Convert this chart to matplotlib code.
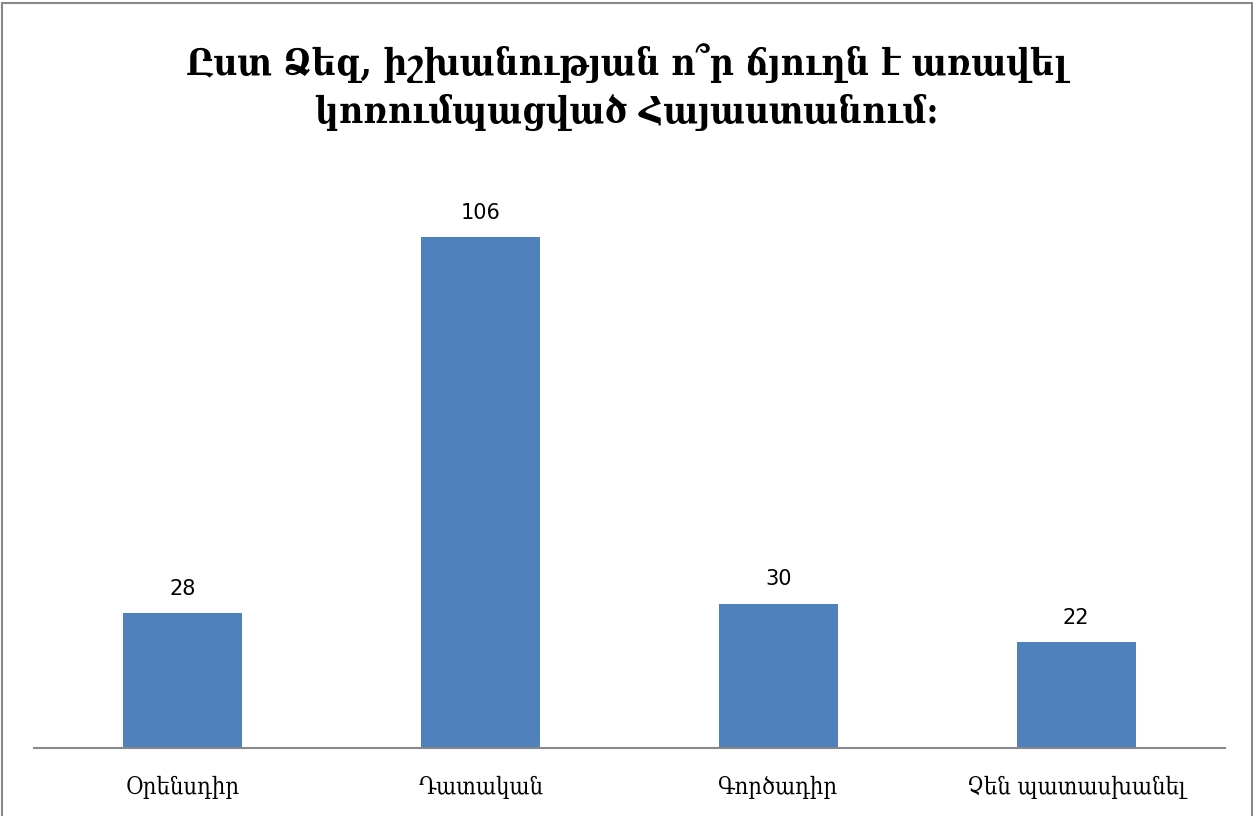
import matplotlib
matplotlib.use("Agg")
from matplotlib import pyplot as plt
from matplotlib.patches import Rectangle

categories = ["Օրենսդիր", "Դատական", "Գործադիր", "Չեն պատասխանել"]
values = [28, 106, 30, 22]
title = "Ըստ Ձեզ, իշխանության ո՞ր ճյուղն է առավել\nկոռումպացված Հայաստանում:"

fig = plt.figure(figsize=(12.54, 8.16), dpi=100)
ax = fig.add_axes([34/1254, 1 - 748/816, 1191/1254, 578/816])

bars = ax.bar(range(len(values)), values, width=0.4, color="#4F81BD")
ax.set_xlim(-0.5, len(values) - 0.5)
ax.set_ylim(0, 120)

for b, v in zip(bars, values):
    ax.text(b.get_x() + b.get_width()/2, v + 3, str(v), ha="center", va="bottom",
            fontsize=15, family="DejaVu Sans")

ax.set_xticks(range(len(values)))
ax.set_xticklabels(categories, fontsize=17, family="DejaVu Serif", stretch="condensed")
ax.tick_params(axis="x", length=0, pad=20)
ax.set_yticks([])
for s in ["top", "right", "left"]:
    ax.spines[s].set_visible(False)
ax.spines["bottom"].set_color("#888888")
ax.spines["bottom"].set_linewidth(1.5)

fig.text(0.5, 1 - 87/816, title, ha="center", va="center", fontsize=26.5,
         family="DejaVu Serif", weight="bold", stretch="condensed", linespacing=1.4)

fig.patches.append(Rectangle((2/1254, -0.01), 1250/1254, 1 - 3/816 + 0.01,
                             transform=fig.transFigure, fill=False,
                             edgecolor="#888888", linewidth=1.5))

fig.savefig("out.png", dpi=100)
